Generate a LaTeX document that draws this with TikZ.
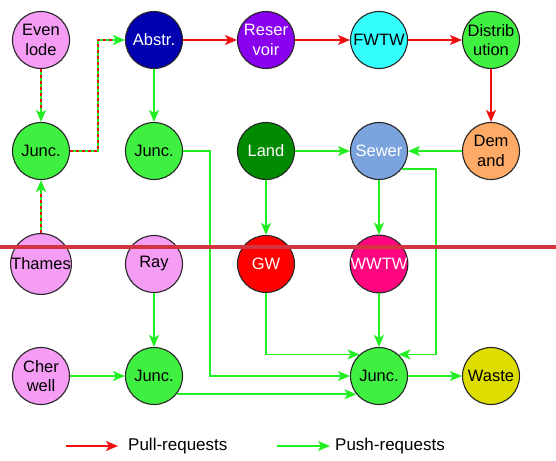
\documentclass[tikz,border=0pt]{standalone}
\usepackage{fontspec}
\setmainfont{Liberation Sans}
\usetikzlibrary{arrows.meta}
\definecolor{riverpink}{HTML}{F59CF5}
\definecolor{juncgreen}{HTML}{40F040}
\definecolor{abstrblue}{HTML}{0000B0}
\definecolor{respurple}{HTML}{8800EE}
\definecolor{fwtwcyan}{HTML}{33FFFF}
\definecolor{landgreen}{HTML}{008A00}
\definecolor{sewerblue}{HTML}{7BA3DE}
\definecolor{demandorange}{HTML}{FFAA66}
\definecolor{gwred}{HTML}{FF0000}
\definecolor{wwtwpink}{HTML}{FF0680}
\definecolor{wasteyellow}{HTML}{DDDD00}
\definecolor{pullred}{HTML}{F01010}
\definecolor{pushgreen}{HTML}{22EE22}
\definecolor{cutred}{HTML}{D3343F}
\tikzset{
  circ/.style={circle, draw=black!85, line width=1.1pt, minimum size=57pt,
    inner sep=0pt, align=center, font=\fontsize{16.5}{19.5}\selectfont},
  wtext/.style={text=white},
  pushline/.style={draw=pushgreen, line width=1.6pt,
    -{Stealth[length=12pt,width=10pt,inset=3pt]}},
  pullline/.style={draw=pullred, line width=1.6pt,
    -{Stealth[length=12pt,width=10pt,inset=3pt]}},
  pulldash/.style={draw=pullred, line width=1.6pt, dash pattern=on 3pt off 3pt,
    shorten >=11pt},
  legendtext/.style={anchor=west, inner sep=0pt, font=\fontsize{17}{20}\selectfont}
}
\begin{document}
\begin{tikzpicture}[x=1pt,y=-1pt]
\fill[white] (0,0) rectangle (556,460);
\useasboundingbox (0,0) rectangle (556,460);

% row 1
\node[circ, fill=riverpink] (even) at (41,40) {Even\\lode};
\node[circ, fill=abstrblue, wtext] (abstr) at (154,40) {Abstr.};
\node[circ, fill=respurple, wtext] (res) at (266,40) {Reser\\voir};
\node[circ, fill=fwtwcyan] (fwtw) at (379,40) {FWTW};
\node[circ, fill=juncgreen] (dist) at (491,40) {Distrib\\ution};
% row 2
\node[circ, fill=juncgreen] (junca) at (41,151) {Junc.};
\node[circ, fill=juncgreen] (juncb) at (154,151) {Junc.};
\node[circ, fill=landgreen, wtext] (land) at (266,151) {Land};
\node[circ, fill=sewerblue, wtext] (sewer) at (379,151) {Sewer};
\node[circ, fill=demandorange] (demand) at (491,151) {Dem\\and};
% row 3
\node[circ, fill=riverpink] (thames) at (41,264) {Thames};
\node[circ, fill=riverpink] (ray) at (154,264) {Ray};
\node[circ, fill=gwred, wtext] (gw) at (266,264) {GW};
\node[circ, fill=wwtwpink, wtext] (wwtw) at (379,264) {WWTW};
% row 4
\node[circ, fill=riverpink] (cher) at (41,376) {Cher\\well};
\node[circ, fill=juncgreen] (juncc) at (154,376) {Junc.};
\node[circ, fill=juncgreen] (juncd) at (379,376) {Junc.};
\node[circ, fill=wasteyellow] (waste) at (491,376) {Waste};

% bend columns for the routed connectors
\coordinate (bendA) at (98,0);
\coordinate (bendB) at (210,0);
\coordinate (bendC) at (436,0);

% pull-requests
\draw[pullline] (abstr) -- (res);
\draw[pullline] (res) -- (fwtw);
\draw[pullline] (fwtw) -- (dist);
\draw[pullline] (dist) -- (demand);

% combined pull/push connectors (green with red dashes)
\draw[pushline] (even) -- (junca);
\draw[pulldash] (even) -- (junca);
\draw[pushline] (thames) -- (junca);
\draw[pulldash] (thames) -- (junca);
\draw[pushline] (junca.east) -- (junca.east -| bendA) |- (abstr.west);
\draw[pulldash] (junca.east) -- (junca.east -| bendA) |- (abstr.west);

% push-requests
\draw[pushline] (abstr) -- (juncb);
\draw[pushline] (juncb.east) -- (juncb.east -| bendB) |- (juncd.west);
\draw[pushline] (land) -- (sewer);
\draw[pushline] (demand) -- (sewer);
\draw[pushline] (land) -- (gw);
\draw[pushline] (sewer) -- (wwtw);
\draw[pushline] (sewer.-39) -- (sewer.-39 -| bendC) |- (juncd.48);
\draw[pushline] (gw) |- (juncd.132);
\draw[pushline] (wwtw) -- (juncd);
\draw[pushline] (ray) -- (juncc);
\draw[pushline] (cher) -- (juncc);
\draw[pushline] (juncc.-39) -- (juncd.-141);
\draw[pushline] (juncd) -- (waste);

% horizontal cut line
\draw[cutred, line width=4pt] (0,247) -- (556,247);

% legend
\coordinate (pullA) at (66,446);
\coordinate (pullB) at (118,446);
\coordinate (pushA) at (277,446);
\coordinate (pushB) at (330,446);
\draw[pullline] (pullA) -- (pullB);
\node[legendtext] (pulltxt) at (128,446) {Pull-requests};
\draw[pushline] (pushA) -- (pushB);
\node[legendtext] (pushtxt) at (335,446) {Push-requests};
\end{tikzpicture}
\end{document}
